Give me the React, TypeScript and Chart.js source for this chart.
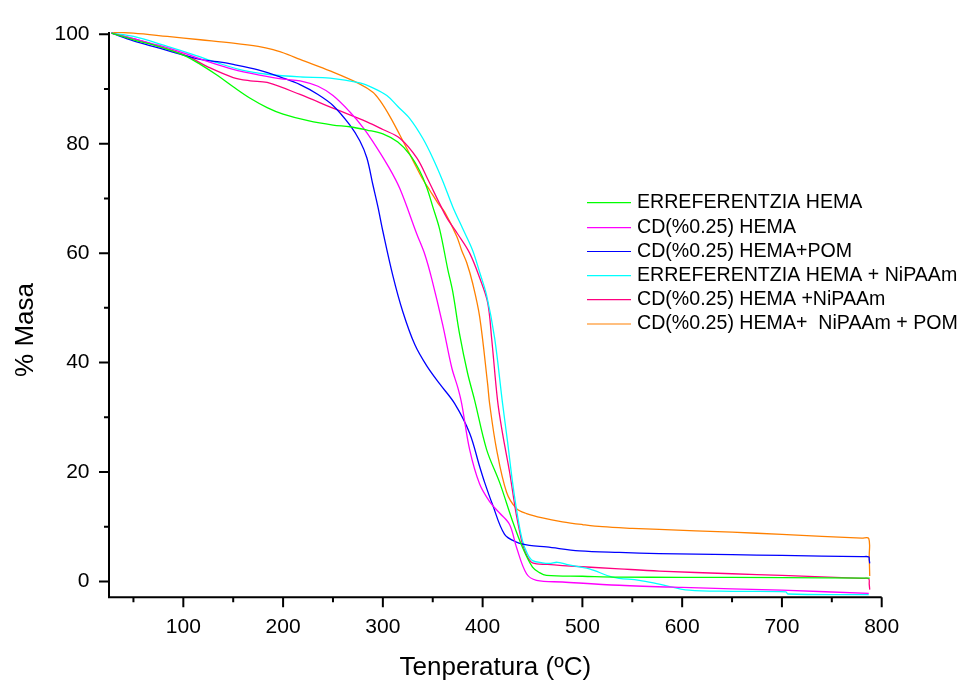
import React, { useEffect, useRef } from "react";
import { Chart, registerables } from "chart.js";

Chart.register(...registerables);

const FONT = "'Liberation Sans', Arial, sans-serif";

const seriesNames = [
  "ERREFERENTZIA HEMA",
  "CD(%0.25) HEMA",
  "CD(%0.25) HEMA+POM",
  "ERREFERENTZIA HEMA + NiPAAm",
  "CD(%0.25) HEMA +NiPAAm",
  "CD(%0.25) HEMA+  NiPAAm + POM",
];
const seriesColors = ["#00ff00", "#ff00ff", "#0000ff", "#00ffff", "#ff0080", "#ff8000"];

const xTickValues = [100, 200, 300, 400, 500, 600, 700, 800];
const xMinorValues = [50, 150, 250, 350, 450, 550, 650, 750];
const yTickValues = [0, 20, 40, 60, 80, 100];
const yMinorValues = [10, 30, 50, 70, 90];

const refHema: [number, number][] = [
  [28, 100.2], [50, 99], [75, 97.8], [100, 96.2], [117, 94.5], [134, 92.5], [150, 90.4],
  [167, 88.3], [184, 86.6], [200, 85.4], [225, 84.2], [250, 83.4], [267, 83.1], [284, 82.5],
  [300, 81.8], [315, 80.3], [327, 78], [337, 75], [344, 72], [350, 68.5], [357, 64.3],
  [365, 57.1], [370, 53], [377, 45.1], [385, 38], [392, 33.1], [404, 24.1], [417, 18.1],
  [430, 11], [440, 6.2], [450, 2.6], [457, 1.6], [464, 1.1], [500, 0.95], [537, 0.8],
  [600, 0.75], [700, 0.7], [788, 0.6],
];
const cdHema: [number, number][] = [
  [28, 100.2], [50, 99.2], [75, 98], [100, 96.6], [125, 95], [150, 93.6], [175, 92.6],
  [200, 91.8], [217, 91.5], [235, 90.5], [250, 88.8], [267, 85.8], [280, 83], [290, 80.4],
  [305, 76], [317, 71.8], [334, 63.5], [342, 59.8], [349, 55.3], [360, 46.9], [369, 39.1],
  [375, 35.5], [379, 32.5], [387, 24.1], [397, 17.8], [407, 14.6], [417, 12.5], [427, 10.4],
  [434, 6.2], [444, 1.4], [454, 0.2], [480, -0.1], [537, -0.7], [600, -1.1], [700, -1.6],
  [787, -2.2],
];
const cdHemaPom: [number, number][] = [
  [28, 100.2], [50, 98.8], [75, 97.5], [100, 96.2], [117, 95.4], [134, 95], [150, 94.5],
  [175, 93.5], [200, 92], [217, 90.8], [235, 89], [250, 87], [267, 83.4], [277, 80.5],
  [284, 77.4], [290, 72.5], [295, 68.5], [300, 64], [310, 55.9], [320, 49.3], [332, 43.3],
  [344, 39.4], [357, 36.1], [372, 32.5], [387, 27.1], [397, 21], [402, 18.1], [410, 14],
  [422, 8.6], [434, 7.2], [447, 6.6], [464, 6.3], [497, 5.6], [537, 5.3], [577, 5.1],
  [650, 4.9], [700, 4.75], [780, 4.52], [787, 4.5], [787.5, 4.0], [788, 3.3],
];
const refHemaNipaam: [number, number][] = [
  [28, 100.2], [50, 99.6], [84, 97.8], [110, 96.3], [134, 94.8], [160, 93.4], [184, 92.7],
  [217, 92.2], [247, 92], [277, 91.1], [290, 90.2], [304, 88.8], [315, 86.8], [327, 84.6],
  [340, 81], [350, 77.4], [360, 73.2], [370, 68.5], [380, 64.5], [390, 60.5], [397, 56.5],
  [404, 52.3], [412, 44.5], [420, 32.5], [425, 25.5], [430, 18.1], [435, 12], [440, 7.4],
  [445, 5], [450, 3.8], [460, 3.4], [467, 3.3], [475, 3.5], [484, 3.1], [507, 2.3],
  [530, 0.8], [557, 0.2], [577, -0.5], [607, -1.6], [650, -1.8], [704, -1.9], [706, -2.3],
  [787, -2.4],
];
const cdHemaNipaam: [number, number][] = [
  [28, 100.2], [50, 99.2], [75, 97.8], [104, 96], [125, 94], [150, 92.1], [167, 91.5],
  [184, 91.2], [217, 89], [250, 86.5], [284, 84], [300, 82.6], [317, 81], [334, 77.4],
  [345, 73.5], [357, 69], [364, 66.5], [375, 63.5], [387, 60], [397, 55.5], [405, 51],
  [409, 44.5], [415, 33], [420, 27], [427, 20], [433, 13], [437, 9.2], [440, 6.8],
  [445, 4.5], [450, 3.4], [465, 3.1], [480, 2.9], [537, 2.3], [577, 1.9], [650, 1.4],
  [700, 1.1], [780, 0.55], [787, 0.5], [787.5, -0.5], [788, -1.5],
];
const cdHemaNipaamPom: [number, number][] = [
  [28, 100.4], [50, 100.2], [84, 99.6], [117, 99], [150, 98.4], [175, 97.8], [190, 97.2],
  [205, 96.3], [217, 95.4], [247, 93.3], [277, 90.9], [290, 89.4], [297, 87.9], [307, 85],
  [317, 81.6], [330, 77], [340, 73.5], [347, 71.5], [355, 69.2], [362, 67.5], [374, 63.1],
  [379, 60.5], [384, 58.3], [390, 54.5], [397, 48.4], [405, 36.1], [407, 32.5], [414, 24.1],
  [424, 16.3], [434, 13.3], [444, 12.4], [460, 11.6], [480, 10.9], [500, 10.4], [520, 10],
  [550, 9.7], [577, 9.5], [650, 9], [700, 8.6], [780, 7.9], [787, 7.85], [787.5, 4.5],
  [788, 1.0],
];

const seriesData = [refHema, cdHema, cdHemaPom, refHemaNipaam, cdHemaNipaam, cdHemaNipaamPom];

const X_MIN = 25.5;
const X_MAX = 800;
const Y_MIN = -2.9;
const Y_MAX = 100.4;

const overlayPlugin = {
  id: "overlay",
  afterDraw(chart: any) {
    const ctx = chart.ctx;
    const xs = chart.scales.x;
    const ys = chart.scales.y;
    const area = chart.chartArea;
    ctx.save();
    ctx.strokeStyle = "#000";
    ctx.lineWidth = 2;
    ctx.lineCap = "butt";
    ctx.beginPath();
    ctx.moveTo(area.left, area.top);
    ctx.lineTo(area.left, area.bottom);
    ctx.lineTo(area.right, area.bottom);
    ctx.stroke();
    ctx.beginPath();
    xTickValues.forEach((v) => {
      const p = xs.getPixelForValue(v);
      ctx.moveTo(p, area.bottom);
      ctx.lineTo(p, area.bottom + 10);
    });
    xMinorValues.forEach((v) => {
      const p = xs.getPixelForValue(v);
      ctx.moveTo(p, area.bottom);
      ctx.lineTo(p, area.bottom + 5);
    });
    yTickValues.forEach((v) => {
      const p = ys.getPixelForValue(v);
      ctx.moveTo(area.left, p);
      ctx.lineTo(area.left - 10, p);
    });
    yMinorValues.forEach((v) => {
      const p = ys.getPixelForValue(v);
      ctx.moveTo(area.left, p);
      ctx.lineTo(area.left - 5, p);
    });
    ctx.stroke();

    ctx.fillStyle = "#000";
    ctx.font = `26px ${FONT}`;
    ctx.textAlign = "center";
    ctx.textBaseline = "alphabetic";
    ctx.fillText("Tenperatura (ºC)", (area.left + area.right) / 2, 675);
    ctx.save();
    ctx.translate(33, 330);
    ctx.rotate(-Math.PI / 2);
    ctx.fillText("% Masa", 0, 0);
    ctx.restore();

    ctx.font = `19.6px ${FONT}`;
    ctx.textAlign = "left";
    ctx.textBaseline = "middle";
    const rowY = [202.7, 227.7, 251.5, 275.7, 299.7, 324];
    seriesNames.forEach((name, i) => {
      const y = rowY[i];
      ctx.strokeStyle = seriesColors[i];
      ctx.lineWidth = 1.2;
      ctx.beginPath();
      ctx.moveTo(587, y);
      ctx.lineTo(631, y);
      ctx.stroke();
      ctx.fillStyle = "#000";
      ctx.fillText(name, 637, y);
    });
    ctx.restore();
  },
};

export default function App() {
  const ref = useRef<HTMLCanvasElement>(null);
  useEffect(() => {
    if (!ref.current) return;
    const chart = new Chart(ref.current, {
      type: "line",
      data: {
        datasets: seriesData.map((d, i) => ({
          label: seriesNames[i],
          data: d.map(([x, y]) => ({ x, y })),
          borderColor: seriesColors[i],
          backgroundColor: seriesColors[i],
          borderWidth: 1.3,
          pointRadius: 0,
          fill: false,
          tension: 0.35,
        })),
      },
      options: {
        animation: false,
        responsive: false,
        maintainAspectRatio: false,
        layout: { padding: { top: 22.7, right: 90.3, left: 0, bottom: 0 } },
        plugins: { legend: { display: false }, tooltip: { enabled: false } },
        scales: {
          x: {
            type: "linear",
            min: X_MIN,
            max: X_MAX,
            grid: { display: false, drawTicks: false },
            border: { display: false },
            afterBuildTicks: (s: any) => {
              s.ticks = xTickValues.map((v) => ({ value: v }));
            },
            afterFit: (s: any) => {
              s.height = 84.7;
            },
            ticks: {
              color: "#000",
              font: { family: FONT, size: 21 },
              padding: 17,
              maxRotation: 0,
              autoSkip: false,
              callback: (v: any) => String(v),
            },
          },
          y: {
            type: "linear",
            min: Y_MIN,
            max: Y_MAX,
            grid: { display: false, drawTicks: false },
            border: { display: false },
            afterBuildTicks: (s: any) => {
              s.ticks = yTickValues.map((v) => ({ value: v }));
            },
            afterFit: (s: any) => {
              s.width = 109;
            },
            ticks: {
              color: "#000",
              font: { family: FONT, size: 21 },
              padding: 19.5,
              autoSkip: false,
              callback: (v: any) => String(v),
            },
          },
        },
      },
      plugins: [overlayPlugin],
    });
    return () => chart.destroy();
  }, []);
  return (
    <div style={{ position: "fixed", left: 0, top: 0, width: 972, height: 682, background: "#fff" }}>
      <canvas ref={ref} width={972} height={682} style={{ width: 972, height: 682, display: "block" }} />
    </div>
  );
}
